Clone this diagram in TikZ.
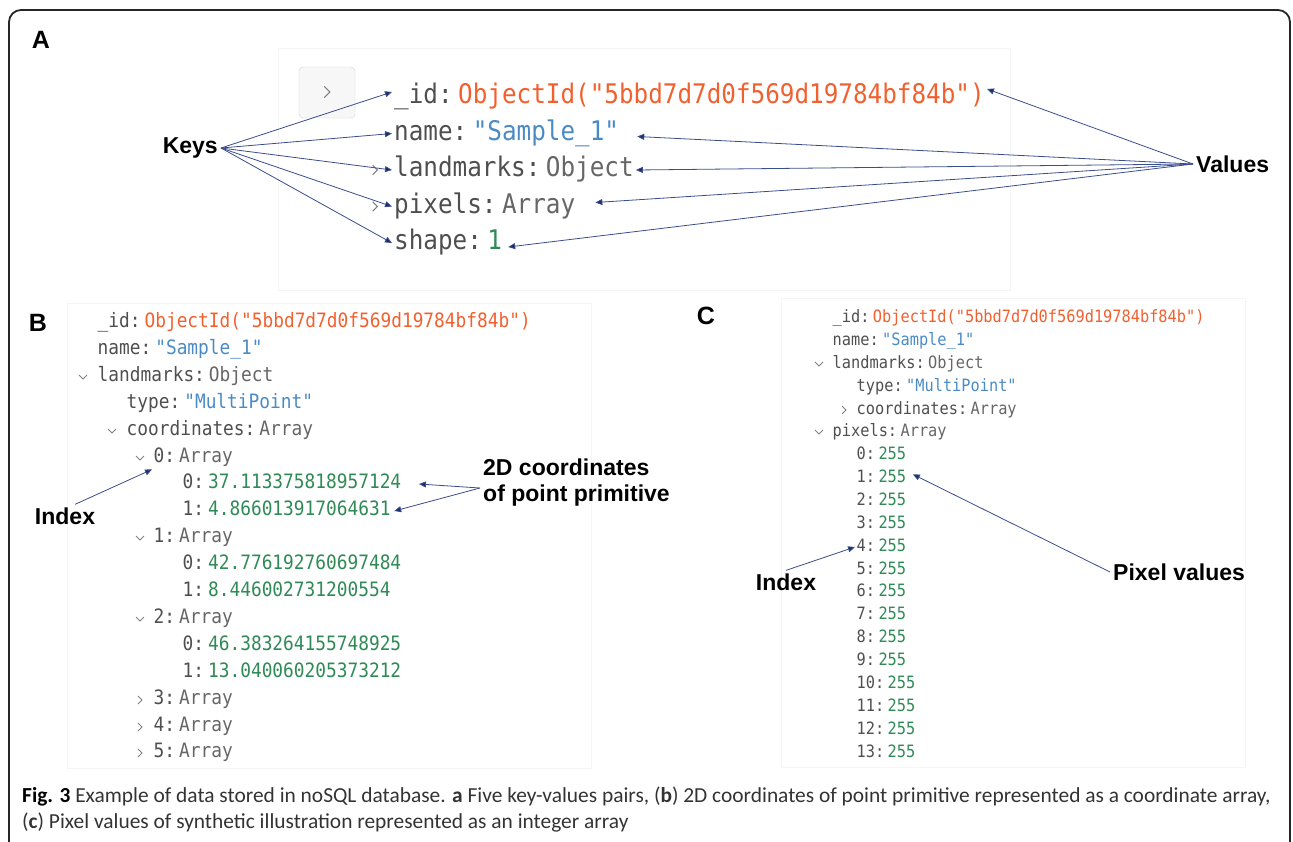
\documentclass[tikz,border=0pt]{standalone}
\usepackage{fontspec}
\setmainfont{Liberation Sans}
\newfontfamily\codefont[FakeStretch=0.9]{DejaVu Sans Mono}
\newfontfamily\capfont{Carlito}
\usetikzlibrary{arrows.meta,positioning}

\definecolor{keygray}{HTML}{4F4F4F}
\definecolor{typegray}{HTML}{666666}
\definecolor{oidred}{HTML}{F1602F}
\definecolor{strblue}{HTML}{4A8BC6}
\definecolor{numgreen}{HTML}{2F8A56}
\definecolor{arrowblue}{HTML}{3A4D8C}
\definecolor{headblue}{HTML}{1C2E66}
\definecolor{capgray}{HTML}{333333}

\newcommand\kv[3]{{\color{keygray}#1:}\hspace{.2em}{\color{#2}#3}}
\newcommand\oid{ObjectId("5bbd7d7d0f569d19784bf84b")}

\begin{document}
\begin{tikzpicture}[x=1pt, y=-1pt,
    ptr/.style={draw=arrowblue, line width=0.8pt, -{Triangle[length=7pt,width=6pt,fill=headblue]}},
    lbl/.style={font=\bfseries\fontsize{23}{26}\selectfont, inner sep=3pt},
    tag/.style={font=\bfseries\fontsize{25}{25}\selectfont, inner sep=0pt},
    shot/.style={draw=black!4, line width=0.8pt},
    chev/.style={draw=gray, line width=1pt},
    codea/.style={font=\codefont\fontsize{27}{27}\selectfont, inner sep=2pt, text height=20pt, text depth=7pt, anchor=west},
    codeb/.style={font=\codefont\fontsize{19.8}{20}\selectfont, inner sep=1.5pt, text height=14.5pt, text depth=5pt, anchor=west},
    codec/.style={font=\codefont\fontsize{17}{17}\selectfont, inner sep=1.5pt, text height=12.5pt, text depth=4.3pt, anchor=west},
    chevr/.pic={\draw[chev] (-2,-4) -- (2,0) -- (-2,4);},
    chevd/.pic={\draw[chev] (-4,-2) -- (0,2) -- (4,-2);}]
\useasboundingbox (0,0) rectangle (1293,841);
\draw[line width=1.8pt, black!85, rounded corners=12pt] (9,860) -- (9,10) -- (1290,10) -- (1290,860);

\node[tag] (tagA) at (41,40) {A};
\draw[shot] (278,48) rectangle (1010,290);
\draw[fill=black!3, draw=black!18, rounded corners=4pt] (299,67) rectangle (355,118);
\pic[scale=1.4] at (327,92) {chevr};

\node[codea] (kid) at (392,97) {\color{keygray}\_id:};
\node[codea, right=1pt of kid] (vid) {\color{oidred}\oid};
\node[codea] (kname) at (392,133.5) {\color{keygray}name:};
\node[codea, right=1pt of kname] (vname) {\color{strblue}"Sample\_1"};
\node[codea] (klm) at (392,170) {\color{keygray}landmarks:};
\node[codea, right=1pt of klm] (vlm) {\color{typegray}Object};
\node[codea] (kpix) at (392,206.5) {\color{keygray}pixels:};
\node[codea, right=1pt of kpix] (vpix) {\color{typegray}Array};
\node[codea] (kshape) at (392,243) {\color{keygray}shape:};
\node[codea, right=1pt of kshape] (vshape) {\color{numgreen}1};
\pic[scale=1.2] at (375,170) {chevr};
\pic[scale=1.2] at (375,206.5) {chevr};

\node[lbl, anchor=east] (keys) at (221,148) {Keys};
\node[lbl, anchor=west] (values) at (1193,164) {Values};
\draw[ptr] (keys.east) -- ([yshift=5pt]kid.west);
\foreach \k in {kname,klm,kpix,kshape}
    \draw[ptr] (keys.east) -- (\k.west);
\draw[ptr] (values.west) -- ([yshift=8pt]vid.east);
\draw[ptr] (values.west) -- ([xshift=16pt,yshift=-3pt]vname.east);
\draw[ptr] (values.west) -- (vlm.east);
\draw[ptr] (values.west) -- ([xshift=18pt,yshift=4pt]vpix.east);
\draw[ptr] (values.west) -- ([xshift=4pt,yshift=-4pt]vshape.east);

\node[tag] (tagB) at (38,323) {B};
\draw[shot] (67,303) rectangle (591,768);
\node[codeb] (bid) at (96,323) {\kv{\_id}{oidred}{\oid}};
\node[codeb] (bname) at (96,350) {\kv{name}{strblue}{"Sample\_1"}};
\node[codeb] (blm) at (96,377) {\kv{landmarks}{typegray}{Object}};
\node[codeb] (btype) at (125,404) {\kv{type}{strblue}{"MultiPoint"}};
\node[codeb] (bcoords) at (125,431) {\kv{coordinates}{typegray}{Array}};
\node[codeb] (bc0) at (152,458) {\kv{0}{typegray}{Array}};
\node[codeb] (bc00) at (181,484) {\kv{0}{numgreen}{37.113375818957124}};
\node[codeb] (bc01) at (181,511) {\kv{1}{numgreen}{4.866013917064631}};
\node[codeb] (bc1) at (152,538) {\kv{1}{typegray}{Array}};
\node[codeb] (bc10) at (181,565) {\kv{0}{numgreen}{42.776192760697484}};
\node[codeb] (bc11) at (181,592) {\kv{1}{numgreen}{8.446002731200554}};
\node[codeb] (bc2) at (152,619) {\kv{2}{typegray}{Array}};
\node[codeb] (bc20) at (181,646) {\kv{0}{numgreen}{46.383264155748925}};
\node[codeb] (bc21) at (181,673) {\kv{1}{numgreen}{13.040060205373212}};
\node[codeb] (bc3) at (152,700) {\kv{3}{typegray}{Array}};
\node[codeb] (bc4) at (152,727) {\kv{4}{typegray}{Array}};
\node[codeb] (bc5) at (152,753) {\kv{5}{typegray}{Array}};
\pic at (83,377) {chevd};
\pic at (112,431) {chevd};
\foreach \y in {458,538,619}
    \pic at (140,\y) {chevd};
\foreach \y in {700,727,753}
    \pic at (140,\y) {chevr};

\node[lbl] (bindex) at (65,516) {Index};
\node[lbl, anchor=west, align=left] (twod) at (480,483) {2D coordinates\\of point primitive};
\draw[ptr] ([xshift=10pt]bindex.north) -- (bc0.south west);
\draw[ptr] ([yshift=-5pt]twod.west) -- ([xshift=16pt]bc00.east);
\draw[ptr] ([yshift=-5pt]twod.west) -- ([xshift=2pt]bc01.east);

\node[tag] (tagC) at (706,316) {C};
\draw[shot] (781,298) rectangle (1245,767);
\node[codec] (cid) at (831,318) {\kv{\_id}{oidred}{\oid}};
\node[codec] (cname) at (831,341) {\kv{name}{strblue}{"Sample\_1"}};
\node[codec] (clm) at (831,364) {\kv{landmarks}{typegray}{Object}};
\node[codec] (ctype) at (855,387) {\kv{type}{strblue}{"MultiPoint"}};
\node[codec] (ccoords) at (855,410) {\kv{coordinates}{typegray}{Array}};
\node[codec] (cpix) at (831,432) {\kv{pixels}{typegray}{Array}};
\foreach \i in {0,...,13}
    \node[codec] (cp\i) at (855,{455.4+22.9*\i}) {\kv{\i}{numgreen}{255}};
\pic at (819,364) {chevd};
\pic at (844,410) {chevr};
\pic at (819,432) {chevd};

\node[lbl] (cindex) at (786,582) {Index};
\node[lbl, anchor=west] (pixval) at (1110,572) {Pixel values};
\draw[ptr] (cindex.north) -- (cp4.west);
\draw[ptr] (pixval.west) -- ([xshift=5pt,yshift=4pt]cp1.east);

\node[anchor=north west, align=left, inner sep=0pt, text=capgray,
      font=\capfont\fontsize{21.4}{26}\selectfont] (caption) at (22,787)
    {\textbf{\color{black}Fig. 3} Example of data stored in noSQL database. \textbf{a} Five key-values pairs, (\textbf{b}) 2D coordinates of point primitive represented as a coordinate array,\\
     (\textbf{c}) Pixel values of synthetic illustration represented as an integer array};
\end{tikzpicture}
\end{document}
